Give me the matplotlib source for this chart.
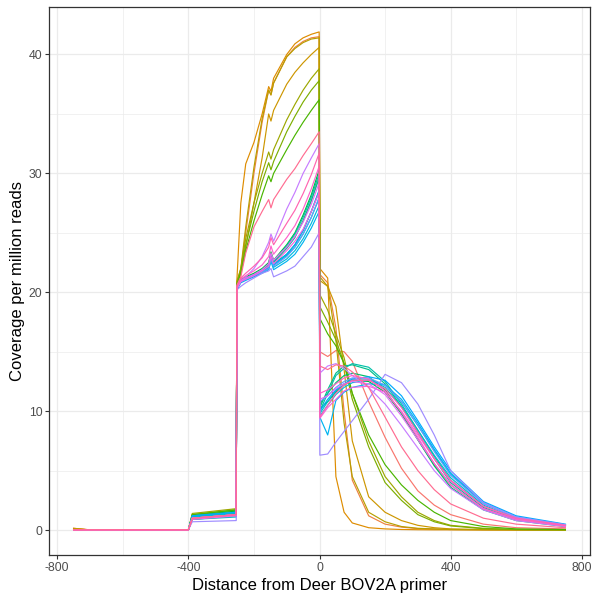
import math
import matplotlib
matplotlib.use("Agg")
import matplotlib.pyplot as plt
from matplotlib.ticker import FixedLocator

# ---- data -----------------------------------------------------------------
X = [-750, -700, -400, -388, -254, -252, -240, -225, -200, -175, -155, -148, -140,
     -100, -75, -50, -25, -1, 1, 25, 50, 75, 100, 150, 200, 250, 300, 350, 400, 500, 600, 750]

s01 = [0.02, 0.02, 0.02, 1.0, 1.3, 20.4, 21.0, 21.2, 21.5, 21.9, 22.4, 23.2, 22.6, 23.8, 24.7, 26.0, 27.7, 29.8,
       15.0, 14.6, 15.1, 15.0, 14.2, 10.8, 7.8, 5.2, 3.3, 2.1, 1.3, 0.5, 0.2, 0.1]
s02 = [0.15, 0.02, 0.02, 1.2, 1.6, 20.8, 21.8, 25.0, 30.0, 34.3, 37.0, 36.6, 37.6, 39.8, 40.6, 41.1, 41.4, 41.5,
       21.5, 20.8, 17.0, 10.0, 4.2, 1.2, 0.5, 0.25, 0.12, 0.08, 0.05, 0.03, 0.02, 0.01]
s03 = [0.15, 0.02, 0.02, 1.0, 1.4, 21.0, 27.5, 30.8, 32.6, 35.0, 37.3, 36.9, 38.0, 40.0, 40.9, 41.4, 41.7, 41.9,
       22.0, 21.2, 4.5, 1.5, 0.6, 0.2, 0.1, 0.05, 0.03, 0.02, 0.02, 0.01, 0.01, 0.01]
s04 = [0.1, 0.02, 0.02, 0.9, 1.3, 20.7, 21.5, 23.8, 27.5, 31.3, 35.0, 34.4, 35.3, 37.5, 38.5, 39.3, 40.0, 40.6,
       21.0, 20.5, 18.8, 13.5, 7.5, 2.8, 1.5, 0.8, 0.4, 0.2, 0.1, 0.05, 0.02, 0.01]
s05 = [0.1, 0.02, 0.02, 1.1, 1.5, 20.9, 22.0, 25.5, 30.5, 34.6, 37.0, 36.6, 37.6, 39.8, 40.5, 41.0, 41.3, 41.4,
       21.3, 20.5, 16.0, 9.0, 4.5, 1.5, 0.7, 0.3, 0.15, 0.1, 0.05, 0.03, 0.02, 0.01]
s06 = [0.02, 0.02, 0.02, 1.4, 1.8, 20.8, 22.0, 24.5, 27.5, 30.0, 31.8, 31.2, 32.0, 34.5, 35.8, 37.0, 38.0, 38.8,
       19.8, 18.5, 16.5, 14.5, 11.5, 7.5, 4.5, 2.8, 1.5, 0.8, 0.4, 0.15, 0.05, 0.03]
s07 = [0.02, 0.02, 0.02, 1.3, 1.7, 20.7, 21.8, 24.0, 26.8, 29.3, 30.9, 30.3, 31.0, 33.5, 34.8, 36.0, 37.0, 37.8,
       18.8, 17.5, 16.0, 14.0, 11.0, 7.0, 4.0, 2.5, 1.3, 0.7, 0.35, 0.12, 0.05, 0.02]
s08 = [0.02, 0.02, 0.02, 1.3, 1.7, 20.6, 21.6, 23.5, 26.0, 28.2, 29.8, 29.3, 30.0, 32.0, 33.2, 34.3, 35.3, 36.2,
       17.8, 16.5, 15.5, 14.0, 11.5, 8.0, 5.5, 3.8, 2.5, 1.5, 0.8, 0.3, 0.1, 0.05]
s09 = [0.02, 0.02, 0.02, 1.2, 1.6, 20.5, 21.1, 21.3, 21.6, 22.0, 22.5, 23.4, 22.7, 24.0, 25.0, 26.5, 28.2, 30.3,
       10.2, 10.8, 11.6, 12.2, 12.6, 12.5, 11.6, 9.8, 7.6, 5.5, 3.8, 1.8, 0.9, 0.35]
s10 = [0.02, 0.02, 0.02, 1.1, 1.4, 20.4, 21.0, 21.2, 21.5, 21.8, 22.2, 23.0, 22.4, 23.2, 24.0, 25.2, 26.8, 28.5,
       10.6, 11.5, 12.4, 13.0, 13.2, 12.9, 11.8, 9.8, 7.6, 5.4, 3.6, 1.7, 0.8, 0.3]
s11 = [0.02, 0.02, 0.02, 1.0, 1.3, 20.4, 21.0, 21.2, 21.5, 21.9, 22.3, 23.1, 22.5, 23.7, 24.6, 26.0, 27.7, 29.6,
       10.3, 11.8, 13.2, 13.8, 13.9, 13.5, 12.3, 10.4, 8.2, 6.0, 4.0, 1.9, 0.9, 0.35]
s12 = [0.02, 0.02, 0.02, 0.9, 1.2, 20.4, 21.0, 21.2, 21.5, 21.9, 22.4, 23.2, 22.6, 23.9, 24.9, 26.3, 28.0, 30.0,
       10.0, 11.5, 13.0, 13.6, 14.0, 13.7, 12.5, 10.6, 8.4, 6.2, 4.2, 2.0, 1.0, 0.4]
s13 = [0.02, 0.02, 0.02, 0.9, 1.1, 20.3, 20.9, 21.1, 21.4, 21.7, 22.1, 22.9, 22.3, 23.1, 23.8, 24.9, 26.3, 27.9,
       9.8, 10.8, 11.7, 12.3, 12.7, 12.7, 12.0, 10.4, 8.4, 6.3, 4.4, 2.1, 1.0, 0.4]
s14 = [0.02, 0.02, 0.02, 1.1, 1.4, 20.3, 20.9, 21.1, 21.4, 21.7, 22.0, 22.8, 22.1, 22.8, 23.5, 24.5, 25.8, 27.3,
       9.6, 10.5, 11.4, 12.0, 12.4, 12.6, 12.2, 10.8, 8.8, 6.7, 4.7, 2.3, 1.1, 0.45]
s15 = [0.02, 0.02, 0.02, 1.2, 1.5, 20.2, 20.8, 21.0, 21.3, 21.6, 21.9, 22.6, 21.9, 22.6, 23.2, 24.2, 25.4, 26.8,
       9.5, 8.0, 10.9, 11.6, 12.0, 12.3, 12.2, 11.0, 9.0, 6.8, 4.8, 2.3, 1.1, 0.45]
s16 = [0.02, 0.02, 0.02, 1.2, 1.5, 20.3, 20.9, 21.1, 21.4, 21.7, 22.1, 22.9, 22.3, 23.2, 24.0, 25.2, 26.8, 28.6,
       10.0, 11.0, 11.8, 12.3, 12.7, 12.9, 12.6, 11.3, 9.2, 7.0, 5.0, 2.4, 1.2, 0.5]
s17 = [0.02, 0.02, 0.02, 1.0, 1.3, 20.3, 20.9, 21.1, 21.4, 21.7, 22.0, 22.8, 22.2, 23.0, 23.8, 24.9, 26.3, 28.0,
       10.8, 11.3, 12.0, 12.5, 12.8, 12.8, 12.2, 10.8, 8.8, 6.6, 4.6, 2.2, 1.1, 0.45]
s18 = [0.02, 0.02, 0.02, 0.7, 0.8, 20.2, 20.5, 20.8, 21.2, 21.6, 21.8, 22.0, 21.3, 21.8, 22.2, 23.0, 23.8, 25.0,
       6.3, 6.4, 7.4, 8.3, 9.2, 11.0, 13.1, 12.4, 10.6, 8.0, 5.0, 2.3, 1.1, 0.45]
s19 = [0.02, 0.02, 0.02, 1.0, 1.3, 20.4, 20.9, 21.3, 22.0, 23.0, 24.2, 24.9, 24.3, 27.0, 28.4, 30.0, 31.3, 32.5,
       13.2, 13.8, 14.0, 13.6, 13.0, 12.0, 10.6, 8.8, 6.9, 5.0, 3.5, 1.7, 0.8, 0.3]
s20 = [0.02, 0.02, 0.02, 1.0, 1.3, 20.4, 21.0, 21.2, 21.5, 21.9, 22.4, 23.3, 22.7, 23.8, 24.7, 25.9, 27.4, 29.2,
       11.0, 11.3, 11.9, 12.3, 12.5, 12.3, 11.4, 9.6, 7.6, 5.6, 3.8, 1.8, 0.9, 0.35]
s21 = [0.02, 0.02, 0.02, 0.9, 1.2, 20.3, 20.9, 21.1, 21.4, 21.8, 22.2, 23.0, 22.4, 23.5, 24.3, 25.3, 26.8, 28.4,
       9.4, 10.3, 11.0, 11.7, 12.0, 12.1, 11.6, 10.0, 8.0, 6.0, 4.1, 2.0, 1.0, 0.4]
s22 = [0.02, 0.02, 0.02, 1.0, 1.3, 20.5, 21.1, 21.4, 21.8, 22.3, 23.0, 23.9, 23.2, 24.6, 25.6, 27.0, 28.7, 30.6,
       11.5, 11.8, 12.3, 12.8, 13.0, 12.7, 11.7, 9.9, 7.8, 5.6, 3.8, 1.8, 0.9, 0.35]
s23 = [0.02, 0.02, 0.02, 1.0, 1.3, 20.5, 21.2, 21.6, 22.2, 22.9, 23.8, 24.6, 24.0, 25.8, 26.9, 28.3, 29.9, 31.7,
       9.5, 10.5, 11.5, 12.2, 12.6, 12.6, 11.9, 10.3, 8.2, 6.0, 4.2, 2.0, 1.0, 0.4]
s24 = [0.02, 0.02, 0.02, 1.0, 1.3, 20.6, 21.3, 23.3, 25.5, 26.8, 27.8, 27.1, 27.8, 29.5, 30.4, 31.5, 32.5, 33.5,
       13.8, 13.5, 13.9, 13.8, 13.3, 12.0, 9.5, 7.0, 5.0, 3.4, 2.2, 1.0, 0.5, 0.2]

SERIES = [s01, s02, s03, s04, s05, s06, s07, s08, s09, s10, s11, s12,
          s13, s14, s15, s16, s17, s18, s19, s20, s21, s22, s23, s24]

X_TICKS = [-800, -400, 0, 400, 800]
Y_TICKS = [0, 10, 20, 30, 40]
X_LABEL = "Distance from Deer BOV2A primer"
Y_LABEL = "Coverage per million reads"


# ---- ggplot-like hue palette ------------------------------------------------
def hcl_hex(h, c=100.0, l=65.0):
    hr = math.radians(h)
    U, V = c * math.cos(hr), c * math.sin(hr)
    Xn, Yn, Zn = 95.047, 100.0, 108.883
    den = Xn + 15 * Yn + 3 * Zn
    un, vn = 4 * Xn / den, 9 * Yn / den
    Y = Yn * ((l + 16) / 116) ** 3 if l > 8 else Yn * l / 903.3
    u = U / (13 * l) + un
    v = V / (13 * l) + vn
    Xc = 9.0 * Y * u / (4 * v)
    Zc = -Xc / 3 - 5 * Y + 3 * Y / v
    rgb_lin = [
        (3.240479 * Xc - 1.537150 * Y - 0.498535 * Zc) / 100,
        (-0.969256 * Xc + 1.875992 * Y + 0.041556 * Zc) / 100,
        (0.055648 * Xc - 0.204043 * Y + 1.057311 * Zc) / 100,
    ]
    out = []
    for t in rgb_lin:
        t = 1.055 * t ** (1 / 2.4) - 0.055 if t > 0.0031308 else 12.92 * t
        out.append(min(1.0, max(0.0, t)))
    return tuple(out)


n = len(SERIES)
colors = [hcl_hex(15 + 360 * i / n) for i in range(n)]

# ---- figure -----------------------------------------------------------------
plt.rcParams["font.family"] = ["Liberation Sans", "DejaVu Sans"]
fig = plt.figure(figsize=(5.93, 5.98), dpi=100)
ax = fig.add_axes([49 / 593, 1 - 555 / 598, 541 / 593, 548 / 598])

for ys, col in zip(SERIES, colors):
    ax.plot(X, ys, color=col, lw=0.85, solid_joinstyle="round")

ax.set_xlim(-825, 825)
ymax = max(max(s) for s in SERIES)
ax.set_ylim(-0.05 * ymax, ymax * 1.05)

ax.xaxis.set_major_locator(FixedLocator(X_TICKS))
ax.xaxis.set_minor_locator(FixedLocator([-600, -200, 200, 600]))
ax.yaxis.set_major_locator(FixedLocator(Y_TICKS))
ax.yaxis.set_minor_locator(FixedLocator([5, 15, 25, 35]))
ax.set_xticklabels([str(t) for t in X_TICKS])
ax.set_yticklabels([str(t) for t in Y_TICKS])

ax.grid(which="major", color="#EBEBEB", lw=0.9)
ax.grid(which="minor", color="#EBEBEB", lw=0.5)
ax.set_axisbelow(True)
for sp in ax.spines.values():
    sp.set_color("#333333")
    sp.set_linewidth(0.9)
ax.tick_params(which="major", length=2.8, width=0.8, color="#333333",
               labelcolor="#4D4D4D", labelsize=8.8, pad=2)
ax.tick_params(which="minor", length=0)

ax.set_xlabel(X_LABEL, fontsize=12, color="black", labelpad=3)
ax.set_ylabel(Y_LABEL, fontsize=12, color="black", labelpad=3)

fig.savefig("out.png", dpi=100, facecolor="white")
